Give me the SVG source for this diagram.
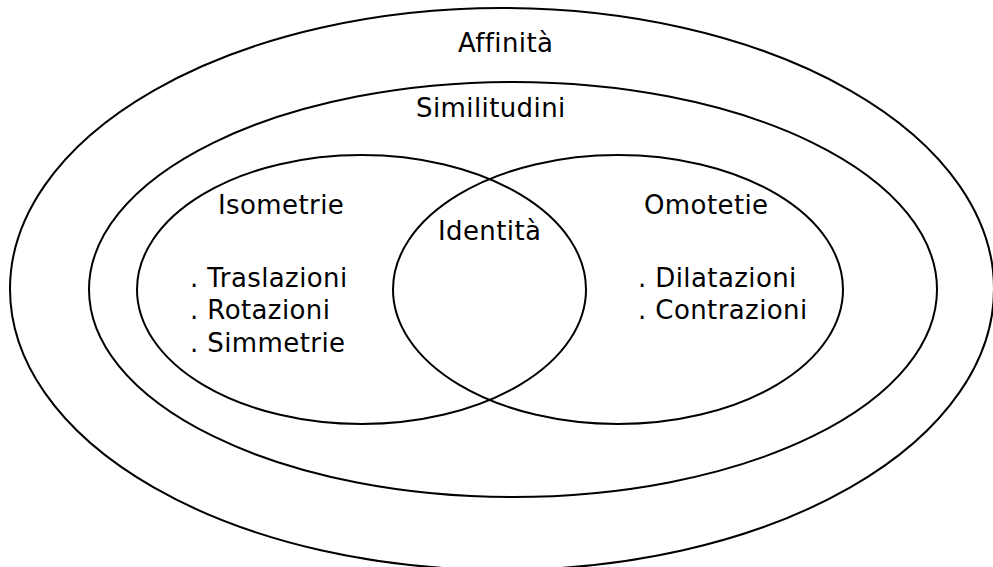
<svg xmlns="http://www.w3.org/2000/svg" width="993" height="567" viewBox="0 0 993 567">
<style>
.s{fill:none;stroke:#000;stroke-width:2}
text{font-family:"DejaVu Sans",Verdana,sans-serif;font-size:26px;letter-spacing:0.4px;fill:#000}
</style>
<rect width="993" height="567" fill="#fff"/>
<g id="affinita">
<ellipse class="s" cx="502" cy="289" rx="492" ry="281"/>
<text x="458" y="52">Affinità</text>
</g>
<g id="similitudini">
<ellipse class="s" cx="513" cy="289.5" rx="424" ry="207.5"/>
<text x="416" y="117">Similitudini</text>
</g>
<g id="isometrie">
<ellipse class="s" cx="361.5" cy="289.5" rx="224.5" ry="134.5"/>
<text x="218" y="214">Isometrie</text>
<text x="190" y="287">. Traslazioni</text>
<text x="190" y="319">. Rotazioni</text>
<text x="190" y="352">. Simmetrie</text>
</g>
<g id="omotetie">
<ellipse class="s" cx="618" cy="289.5" rx="225" ry="134.5"/>
<text x="644" y="214">Omotetie</text>
<text x="638" y="287">. Dilatazioni</text>
<text x="638" y="319">. Contrazioni</text>
</g>
<g id="identita">
<text x="438" y="240">Identità</text>
</g>
<g id="connectors"/>
</svg>
